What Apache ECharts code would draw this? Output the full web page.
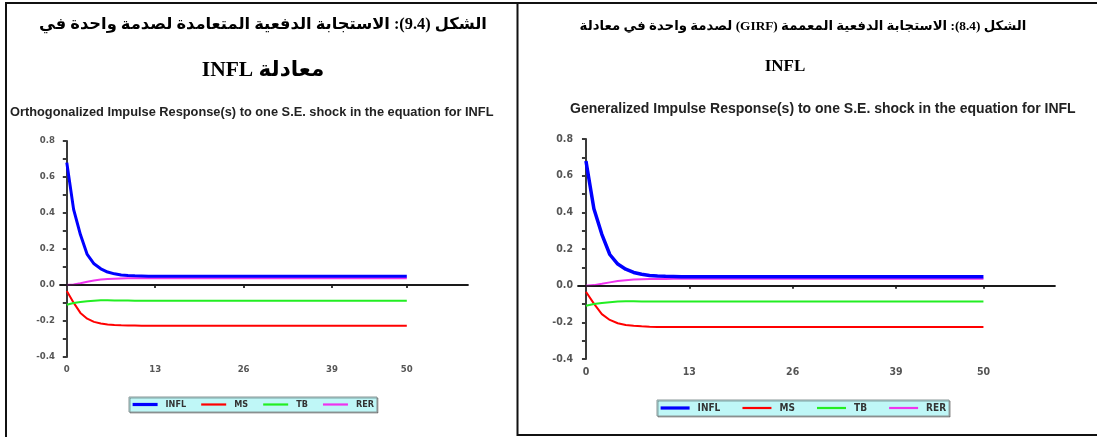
<!DOCTYPE html>
<html>
<head>
<meta charset="utf-8">
<script src="https://cdn.jsdelivr.net/npm/echarts@6/dist/echarts.min.js"></script>
<style>
html,body{margin:0;padding:0;background:#fff;}
#c{width:1097px;height:437px;}
</style>
</head>
<body>
<div id="c"></div>
<script>
// ---- data (GIRF for INFL, the first variable, equals the OIRF) ----
var horizons = [0,1,2,3,4,5,6,7,8,9,10,11,12,13,14,15,16,17,18,19,20,21,22,23,24,25,26,27,28,29,30,31,32,33,34,35,36,37,38,39,40,41,42,43,44,45,46,47,48,49,50];
var seriesNames = ['INFL','MS','TB','RER'];
var inflResp = [0.680,0.420,0.280,0.170,0.118,0.090,0.072,0.062,0.056,0.053,0.051,0.050,0.049,0.049,0.048,0.048,0.048,0.048,0.048,0.048,0.048,0.048,0.048,0.048,0.048,0.048,0.048,0.048,0.048,0.048,0.048,0.048,0.048,0.048,0.048,0.048,0.048,0.048,0.048,0.048,0.048,0.048,0.048,0.048,0.048,0.048,0.048,0.048,0.048,0.048,0.048];
var msResp = [-0.033,-0.098,-0.155,-0.187,-0.205,-0.214,-0.219,-0.222,-0.224,-0.225,-0.225,-0.226,-0.226,-0.226,-0.226,-0.226,-0.226,-0.226,-0.226,-0.226,-0.226,-0.226,-0.226,-0.226,-0.226,-0.226,-0.226,-0.226,-0.226,-0.226,-0.226,-0.226,-0.226,-0.226,-0.226,-0.226,-0.226,-0.226,-0.226,-0.226,-0.226,-0.226,-0.226,-0.226,-0.226,-0.226,-0.226,-0.226,-0.226,-0.226,-0.226];
var tbResp = [-0.110,-0.100,-0.094,-0.090,-0.087,-0.085,-0.085,-0.086,-0.086,-0.086,-0.087,-0.087,-0.087,-0.087,-0.087,-0.087,-0.087,-0.087,-0.087,-0.087,-0.087,-0.087,-0.087,-0.087,-0.087,-0.087,-0.087,-0.087,-0.087,-0.087,-0.087,-0.087,-0.087,-0.087,-0.087,-0.087,-0.087,-0.087,-0.087,-0.087,-0.087,-0.087,-0.087,-0.087,-0.087,-0.087,-0.087,-0.087,-0.087,-0.087,-0.087];
var rerResp = [0.000,0.003,0.010,0.018,0.025,0.030,0.033,0.035,0.036,0.037,0.037,0.038,0.038,0.038,0.038,0.038,0.038,0.038,0.038,0.038,0.038,0.038,0.038,0.038,0.038,0.038,0.038,0.038,0.038,0.038,0.038,0.038,0.038,0.038,0.038,0.038,0.038,0.038,0.038,0.038,0.038,0.038,0.038,0.038,0.038,0.038,0.038,0.038,0.038,0.038,0.038];
var xTickValues = [0,13,26,39,50];
var yMin = -0.4, yMax = 0.8, yStep = 0.2;
var xMin = -1, xMax = 59;

var leftTitle1 = 'الشكل (9.4): الاستجابة الدفعية المتعامدة لصدمة واحدة في';
var leftTitle2 = 'معادلة INFL';
var rightTitle1 = 'الشكل (8.4): الاستجابة الدفعية المعممة (GIRF) لصدمة واحدة في معادلة';
var rightTitle2 = 'INFL';
var leftSub = 'Orthogonalized Impulse Response(s) to one S.E. shock in the equation for INFL';
var rightSub = 'Generalized Impulse Response(s) to one S.E. shock in the equation for INFL';

var colors = {INFL:'#0000ff', MS:'#ff0000', TB:'#22ee22', RER:'#ee33ee'};
var values = {INFL:inflResp, MS:msResp, TB:tbResp, RER:rerResp};

function pairs(arr){ return horizons.map(function(h,i){ return [h, arr[i]]; }); }
var RLE = '\u202B', PDF = '\u202C';
var condFont = '"DejaVu Sans Condensed","DejaVu Sans",sans-serif';

function axes(gi, fs, lm){
  return {
    x: {type:'value', gridIndex:gi, min:xMin, max:xMax, interval:1,
      axisLine:{lineStyle:{color:'#3a3a3a', width:2}},
      axisTick:{show:true, customValues:xTickValues, length:3, inside:false, lineStyle:{color:'#3a3a3a', width:2}},
      axisLabel:{customValues:xTickValues, fontFamily:condFont, fontWeight:'bold', fontSize:fs, color:'#555', margin:lm},
      splitLine:{show:false}},
    y: {type:'value', gridIndex:gi, min:yMin, max:yMax, interval:yStep,
      axisLine:{show:true, lineStyle:{color:'#3a3a3a', width:2}},
      axisTick:{show:true, length:4, lineStyle:{color:'#3a3a3a', width:2}},
      minorTick:{show:true, splitNumber:2, length:4, lineStyle:{color:'#3a3a3a', width:2}},
      axisLabel:{fontFamily:condFont, fontWeight:'bold', fontSize:fs, color:'#555', margin:5,
        formatter:function(v){ return v.toFixed(1); }},
      splitLine:{show:false}}
  };
}
var a0 = axes(0, 9.5, 8), a1 = axes(1, 10.5, 8);

var series = [];
[0,1].forEach(function(gi){
  seriesNames.forEach(function(n, k){
    var s = {name:n, type:'line', xAxisIndex:gi, yAxisIndex:gi, data:pairs(values[n]),
      showSymbol:false, symbol:'none', animation:false,
      lineStyle:{color:colors[n], width: n==='INFL' ? (gi===0?3:3.5) : 2},
      itemStyle:{color:colors[n]},
      z: n==='INFL' ? 5 : (n==='RER' ? 3 : 4)};
    if(n==='TB'){
      s.markLine = {silent:true, symbol:'none', label:{show:false}, animation:false,
        lineStyle:{color:'#111', width:1.6, type:'solid'}, data:[{yAxis:0}]};
    }
    series.push(s);
  });
});

function legend(left, top, iw, gap, fs, h){
  return {left:left, top:top, orient:'horizontal',
    data:seriesNames.map(function(n){
      return {name:n, lineStyle:{color:colors[n], width: n==='INFL' ? 3.2 : 2.2},
              itemStyle:{color:'rgba(0,0,0,0)', borderWidth:0, opacity:0}};
    }),
    itemWidth:iw, itemHeight:h, itemGap:gap, padding:[3,3,3,2],
    backgroundColor:'#bff7f7', borderColor:'#8a9898', borderWidth:1,
    shadowColor:'rgba(0,0,0,0.35)', shadowOffsetX:1, shadowOffsetY:1,
    textStyle:{fontFamily:condFont, fontWeight:'bold', fontSize:fs, color:'#333', padding:[0,0,0,3]},
    selectedMode:false};
}

var option = {
  animation:false,
  backgroundColor:'#fff',
  grid:[{left:60, top:141, width:408, height:216},
        {left:578, top:139, width:477, height:220}],
  xAxis:[a0.x, a1.x],
  yAxis:[a0.y, a1.y],
  legend:[legend(129, 397, 25, 14, 9, 10), legend(657, 400, 29, 21, 10, 11)],
  series:series,
  graphic:[
    {type:'line', shape:{x1:5, y1:3, x2:1097, y2:3}, style:{stroke:'#111', lineWidth:2}},
    {type:'line', shape:{x1:6, y1:2, x2:6, y2:437}, style:{stroke:'#111', lineWidth:2}},
    {type:'line', shape:{x1:517.5, y1:2, x2:517.5, y2:436}, style:{stroke:'#111', lineWidth:2}},
    {type:'line', shape:{x1:517, y1:435, x2:1097, y2:435}, style:{stroke:'#111', lineWidth:2}},
    {type:'text', style:{text:RLE+leftTitle1+PDF, x:263, y:25, textAlign:'center', textVerticalAlign:'middle',
      font:'bold 16.3px "Liberation Serif","DejaVu Sans",serif', fill:'#000'}},
    {type:'text', style:{text:RLE+leftTitle2+PDF, x:263, y:70, textAlign:'center', textVerticalAlign:'middle',
      font:'bold 21.5px "Liberation Serif","DejaVu Sans",serif', fill:'#000'}},
    {type:'text', style:{text:RLE+rightTitle1+PDF, x:803, y:27, textAlign:'center', textVerticalAlign:'middle',
      font:'bold 13.3px "Liberation Serif","DejaVu Sans",serif', fill:'#000'}},
    {type:'text', style:{text:rightTitle2, x:785, y:67, textAlign:'center', textVerticalAlign:'middle',
      font:'bold 17px "Liberation Serif",serif', fill:'#000'}},
    {type:'text', style:{text:leftSub, x:10, y:112, textAlign:'left', textVerticalAlign:'middle',
      font:'bold 12.8px "Liberation Sans",Arial,sans-serif', fill:'#222'}},
    {type:'text', style:{text:rightSub, x:570, y:109, textAlign:'left', textVerticalAlign:'middle',
      font:'bold 14px "Liberation Sans",Arial,sans-serif', fill:'#222'}}
  ]
};
var chart = echarts.init(document.getElementById('c'), null, {renderer:'canvas'});
chart.setOption(option);
</script>
</body>
</html>
